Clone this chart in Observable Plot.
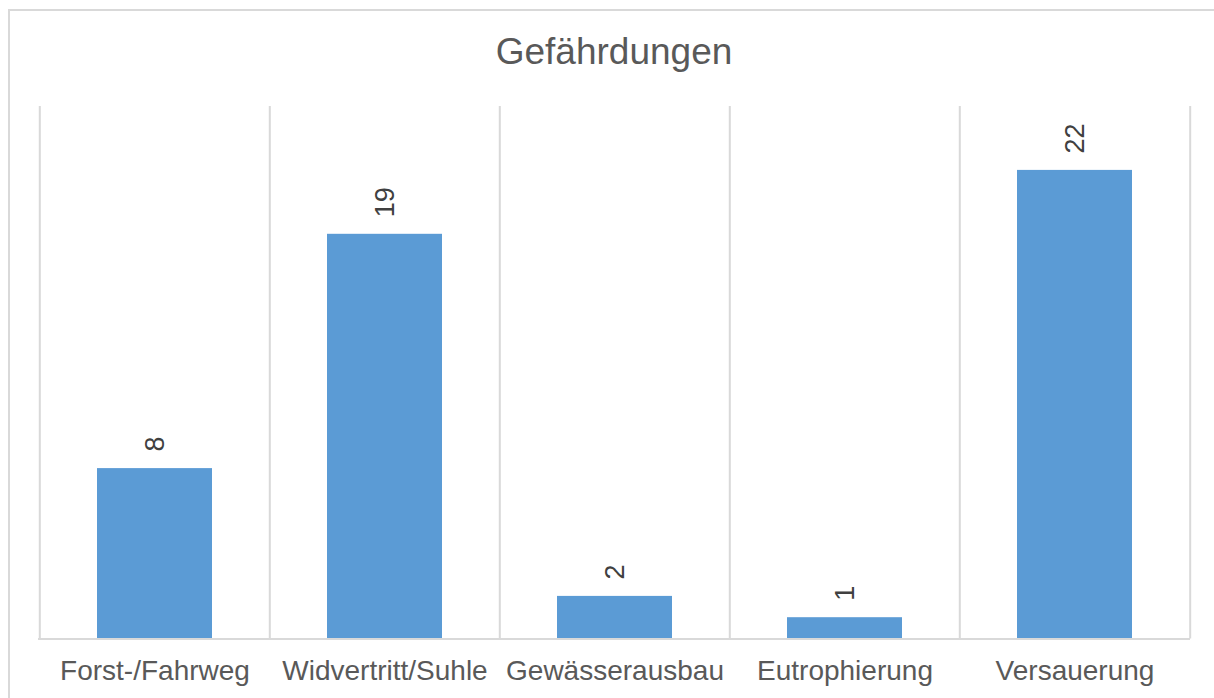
<!DOCTYPE html>
<html>
<head>
<meta charset="utf-8">
<script src="https://cdn.jsdelivr.net/npm/d3@7"></script>
<script src="https://cdn.jsdelivr.net/npm/@observablehq/plot@0.6"></script>
<style>
  html, body { margin: 0; padding: 0; background: #fff; overflow: hidden; }
  #wrap { position: relative; width: 1214px; height: 698px; overflow: hidden; }
  #border { position: absolute; left: 8px; top: 9px; width: 1400px; height: 900px;
            border-top: 2px solid #d9d9d9; border-left: 2px solid #d9d9d9; box-sizing: border-box; }
  #title { position: absolute; left: 0; top: 31px; width: 1228px; text-align: center;
           font-family: "Liberation Sans", Arial, sans-serif; font-size: 37px; color: #595959; }
  #chart { position: absolute; left: 0; top: 0; }
</style>
</head>
<body>
<div id="wrap">
  <div id="border"></div>
  <div id="chart"></div>
  <div id="title">Gefährdungen</div>
</div>
<script>
const categories = ["Forst-/Fahrweg", "Widvertritt/Suhle", "Gewässerausbau", "Eutrophierung", "Versauerung"];
const values = [8, 19, 2, 1, 22];

const data = categories.map((c, i) => ({category: c, value: values[i]}));

const width = 1214, height = 698;
const marginLeft = 38, marginRight = 24, marginTop = 106, marginBottom = 59.5;
const step = (width - marginLeft - marginRight) / categories.length;

const chart = Plot.plot({
  width, height, marginLeft, marginRight, marginTop, marginBottom,
  style: {fontFamily: "'Liberation Sans', Arial, sans-serif", background: "transparent"},
  x: {domain: categories, paddingInner: 0.5, paddingOuter: 0.25, label: null, tickSize: 0, tickPadding: 21},
  y: {domain: [0, 25], axis: null},
  marks: [
    Plot.ruleX(categories, {x: d => d, dx: -step / 2, stroke: "#d9d9d9", strokeWidth: 2}),
    Plot.ruleX([categories[categories.length - 1]], {x: d => d, dx: step / 2, stroke: "#d9d9d9", strokeWidth: 2}),
    Plot.barY(data, {x: "category", y: "value", fill: "#5b9bd5"}),
    Plot.ruleY([0], {stroke: "#d9d9d9", strokeWidth: 2}),
    Plot.text(data, {x: "category", y: "value", text: d => String(d.value), rotate: -90,
      textAnchor: "start", dy: -17, fontSize: 27, fill: "#404040"}),
    Plot.axisX({tickSize: 0, tickPadding: 21, fontSize: 28, color: "#595959", label: null})
  ]
});
document.getElementById("chart").appendChild(chart);
</script>
</body>
</html>
